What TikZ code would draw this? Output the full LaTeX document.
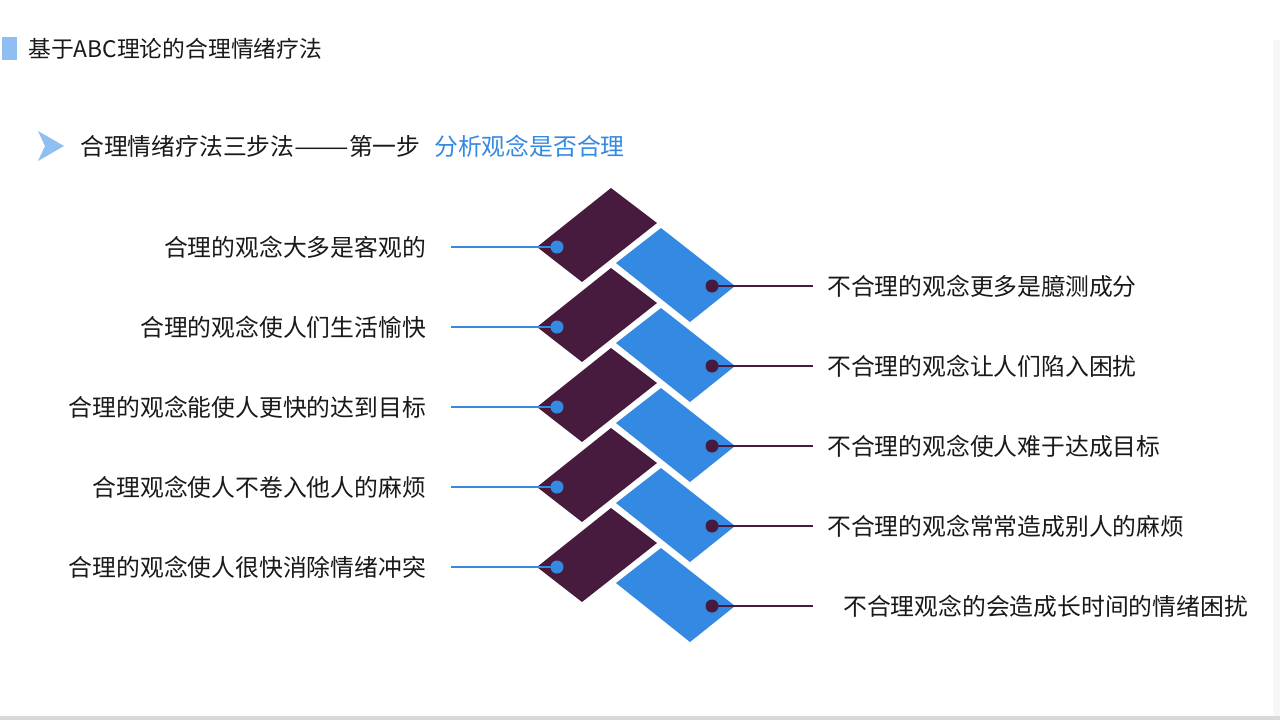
\documentclass[tikz,border=0pt]{standalone}
\usepackage{fontspec}
\newfontfamily\cjk{Noto Sans CJK SC}
\definecolor{cplum}{RGB}{70,27,62}
\definecolor{cblue}{RGB}{52,137,226}
\definecolor{clight}{RGB}{142,190,242}
\definecolor{ctext}{RGB}{25,25,25}

\tikzstyle{txt}   = [inner ysep=0pt, text=ctext, font=\cjk\fontsize{23.8}{28}\selectfont]
\tikzstyle{ltext} = [txt, anchor=east, inner xsep=25pt]
\tikzstyle{rtext} = [txt, anchor=west, inner xsep=14pt]
\tikzstyle{ldot}  = [circle, fill=cblue, minimum size=13pt, inner sep=0pt]
\tikzstyle{rdot}  = [circle, fill=cplum, minimum size=13pt, inner sep=0pt]
\tikzstyle{lline} = [draw=cblue, line width=2pt]
\tikzstyle{rline} = [draw=cplum, line width=2pt]

\begin{document}
\begin{tikzpicture}[x=1pt, y=-1pt]
     \useasboundingbox (0,0) rectangle (1280,720);
     \fill[white] (0,0) rectangle (1280,720);
     \fill[black!3] (1273,40) rectangle (1280,716);
     \fill[black!15] (0,716) rectangle (1280,720);

     % titre
     \fill[clight] (2,37) rectangle (17,60);
     \node[txt, anchor=west, inner xsep=0pt, font=\cjk\fontsize{22.8}{26}\selectfont] (title) at (28,49) {基于ABC理论的合理情绪疗法};
     \fill[clight] (38,131) -- (64,146) -- (38,161) -- (45,146) -- cycle;
     \node[txt, anchor=west, inner xsep=0pt] (step) at (80,146) {合理情绪疗法三步法\scalebox{1.37}[1]{——}第一步};
     \node[txt, anchor=west, inner xsep=0pt, text=cblue] (stepkey) at (434,146) {分析观念是否合理};

     % tuiles
     \fill[cplum] (537,247) -- ++(74,-59) -- ++(46,35) -- ++(-75,59) -- cycle;
     \fill[cplum] (537,327) -- ++(74,-59) -- ++(46,35) -- ++(-75,59) -- cycle;
     \fill[cplum] (537,407) -- ++(74,-59) -- ++(46,35) -- ++(-75,59) -- cycle;
     \fill[cplum] (537,487) -- ++(74,-59) -- ++(46,35) -- ++(-75,59) -- cycle;
     \fill[cplum] (537,567) -- ++(74,-59) -- ++(46,35) -- ++(-75,59) -- cycle;
     \fill[cblue] (616,263) -- ++(45,-35) -- ++(74,58) -- ++(-45,36) -- cycle;
     \fill[cblue] (616,343) -- ++(45,-35) -- ++(74,58) -- ++(-45,36) -- cycle;
     \fill[cblue] (616,423) -- ++(45,-35) -- ++(74,58) -- ++(-45,36) -- cycle;
     \fill[cblue] (616,503) -- ++(45,-35) -- ++(74,58) -- ++(-45,36) -- cycle;
     \fill[cblue] (616,583) -- ++(45,-35) -- ++(74,58) -- ++(-45,36) -- cycle;

     % gauche
     \node[ltext] (lt1) at (451,247) {合理的观念大多是客观的};
     \node[ltext] (lt2) at (451,327) {合理的观念使人们生活愉快};
     \node[ltext] (lt3) at (451,407) {合理的观念能使人更快的达到目标};
     \node[ltext] (lt4) at (451,487) {合理观念使人不卷入他人的麻烦};
     \node[ltext] (lt5) at (451,567) {合理的观念使人很快消除情绪冲突};
     \node[ldot] (ld1) at (557,247) {};
     \node[ldot] (ld2) at (557,327) {};
     \node[ldot] (ld3) at (557,407) {};
     \node[ldot] (ld4) at (557,487) {};
     \node[ldot] (ld5) at (557,567) {};
     \draw[lline] (lt1.east) -- (ld1.center);
     \draw[lline] (lt2.east) -- (ld2.center);
     \draw[lline] (lt3.east) -- (ld3.center);
     \draw[lline] (lt4.east) -- (ld4.center);
     \draw[lline] (lt5.east) -- (ld5.center);

     % droite
     \node[rtext] (rt1) at (813,286) {不合理的观念更多是臆测成分};
     \node[rtext] (rt2) at (813,366) {不合理的观念让人们陷入困扰};
     \node[rtext] (rt3) at (813,446) {不合理的观念使人难于达成目标};
     \node[rtext] (rt4) at (813,526) {不合理的观念常常造成别人的麻烦};
     \node[rtext, inner xsep=30pt] (rt5) at (813,606) {不合理观念的会造成长时间的情绪困扰};
     \node[rdot] (rd1) at (712,286) {};
     \node[rdot] (rd2) at (712,366) {};
     \node[rdot] (rd3) at (712,446) {};
     \node[rdot] (rd4) at (712,526) {};
     \node[rdot] (rd5) at (712,606) {};
     \draw[rline] (rd1.center) -- (rt1.west);
     \draw[rline] (rd2.center) -- (rt2.west);
     \draw[rline] (rd3.center) -- (rt3.west);
     \draw[rline] (rd4.center) -- (rt4.west);
     \draw[rline] (rd5.center) -- (rt5.west);
\end{tikzpicture}
\end{document}
